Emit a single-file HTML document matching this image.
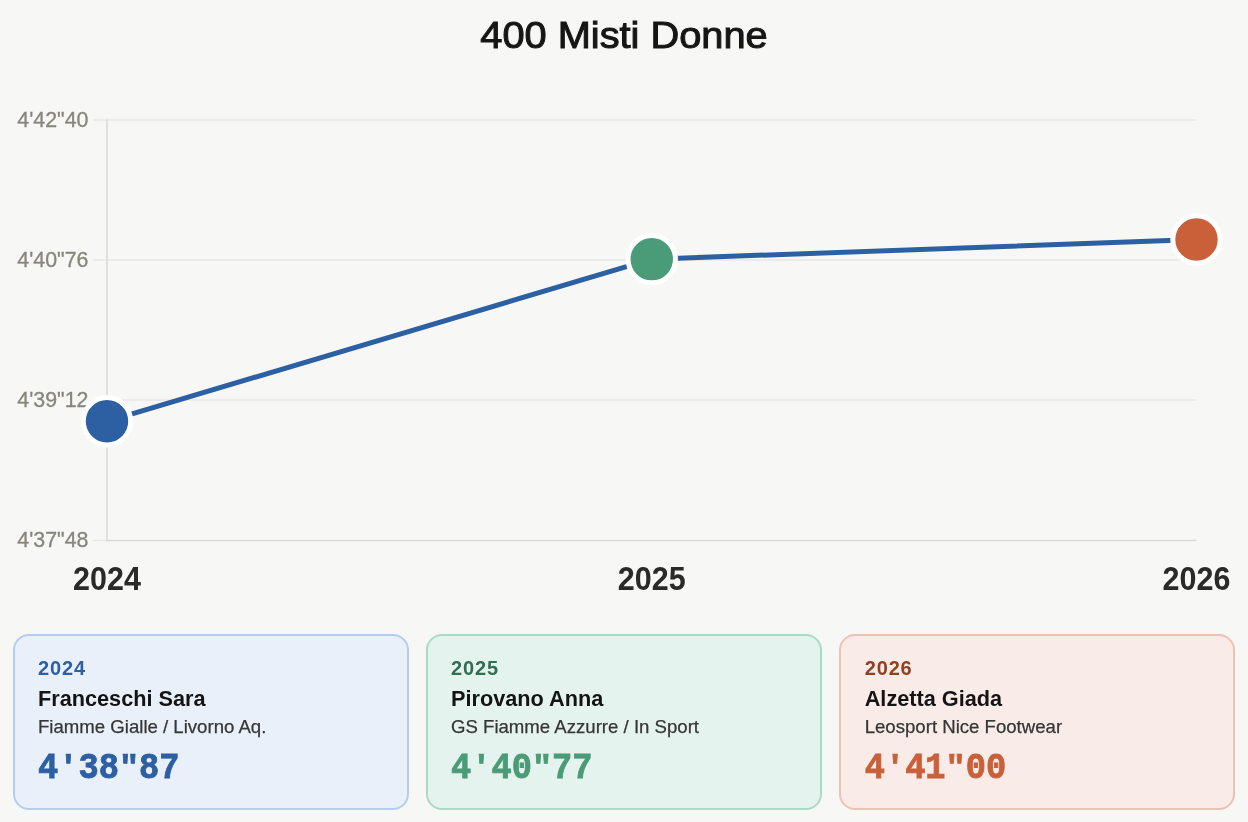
<!DOCTYPE html>
<html>
<head>
<meta charset="utf-8">
<style>
html,body{margin:0;padding:0;}
body{-webkit-font-smoothing:antialiased;width:1248px;height:822px;background:#f7f7f5;position:relative;overflow:hidden;font-family:"Liberation Sans",sans-serif;}
.title{position:absolute;left:0;top:13.8px;width:1248px;text-align:center;font-size:37px;font-weight:normal;color:#161616;line-height:44px;-webkit-text-stroke:1px #161616;transform:scaleX(1.075);}
svg.chart{position:absolute;left:0;top:0;will-change:transform;}
.title,.card{will-change:transform;}
.card{position:absolute;top:634px;width:396.3px;height:176px;border-radius:16px;border:2px solid;box-sizing:border-box;}
.c1{left:13px;background:#e9f0f9;border-color:#b4cdec;}
.c2{left:426px;background:#e5f3ee;border-color:#a9dcc6;}
.c3{left:839px;background:#f8ebe8;border-color:#ecc3b2;}
.yr{position:absolute;left:23px;top:21px;font-size:20px;font-weight:bold;letter-spacing:0.85px;line-height:22px;}
.nm{position:absolute;left:23px;top:50px;font-size:21.7px;font-weight:bold;color:#141414;line-height:26px;}
.cl{position:absolute;left:23px;top:81px;font-size:18.6px;color:#363636;-webkit-text-stroke:0.25px #363636;line-height:20px;}
.tm{position:absolute;left:23px;top:112.8px;transform:scaleY(1.075);transform-origin:0 30px;-webkit-text-stroke:0.8px currentColor;font-family:"Liberation Mono",monospace;font-size:33.7px;font-weight:bold;line-height:40px;}
.q{display:inline-block;transform:translateY(3.5px) scaleY(0.82);transform-origin:50% 0;}
.c1 .yr{color:#2d5fa3}.c1 .tm{color:#2d5fa3}
.c2 .yr{color:#2f6f55}.c2 .tm{color:#4a9b78}
.c3 .yr{color:#94401f}.c3 .tm{color:#c9603a}
.c3 .yr,.c3 .nm,.c3 .cl,.c3 .tm{left:23.7px;}
</style>
</head>
<body>
<div class="title">400 Misti Donne</div>
<svg class="chart" width="1248" height="622" viewBox="0 0 1248 622">
  <g stroke="#e8e7e4" stroke-width="1.5">
    <line x1="93" y1="120" x2="1196.5" y2="120"/>
    <line x1="93" y1="260" x2="1196.5" y2="260"/>
    <line x1="93" y1="400" x2="1196.5" y2="400"/>
    <line x1="93" y1="540.5" x2="107" y2="540.5"/>
  </g>
  <g stroke="#d9d9d6" stroke-width="1.5">
    <line x1="107" y1="119.25" x2="107" y2="541.25"/>
    <line x1="107" y1="540.5" x2="1196.5" y2="540.5"/>
  </g>
  <g font-family="Liberation Sans" font-size="21.4" fill="#86857e" stroke="#86857e" stroke-width="0.3" text-anchor="end">
    <text transform="translate(88.5,126.8) scale(1,1.01)">4'42"40</text>
    <text transform="translate(88.5,266.8) scale(1,1.01)">4'40"76</text>
    <text transform="translate(88.5,406.8) scale(1,1.01)">4'39"12</text>
    <text transform="translate(88.5,546.8) scale(1,1.01)">4'37"48</text>
  </g>
  <g font-family="Liberation Sans" font-size="30.5" font-weight="bold" fill="#2a2a2a" text-anchor="middle">
    <text transform="translate(107,590.2) scale(1,1.065)">2024</text>
    <text transform="translate(651.75,590.2) scale(1,1.065)">2025</text>
    <text transform="translate(1196.5,590.2) scale(1,1.065)">2026</text>
  </g>
  <polyline points="107,421.3 651.75,259.15 1196.5,239.5" fill="none" stroke="#2d5fa3" stroke-width="5" stroke-linejoin="round"/>
  <g stroke="#fff" stroke-width="5">
    <circle cx="107" cy="421.3" r="23.7" fill="#2d5fa3"/>
    <circle cx="651.75" cy="259.15" r="23.7" fill="#4a9b78"/>
    <circle cx="1196.5" cy="239.5" r="23.7" fill="#c9603a"/>
  </g>
</svg>

<div class="card c1">
  <div class="yr">2024</div>
  <div class="nm">Franceschi Sara</div>
  <div class="cl">Fiamme Gialle / Livorno Aq.</div>
  <div class="tm">4<span class="q">'</span>38<span class="q">"</span>87</div>
</div>
<div class="card c2">
  <div class="yr">2025</div>
  <div class="nm">Pirovano Anna</div>
  <div class="cl">GS Fiamme Azzurre / In Sport</div>
  <div class="tm">4<span class="q">'</span>40<span class="q">"</span>77</div>
</div>
<div class="card c3">
  <div class="yr">2026</div>
  <div class="nm">Alzetta Giada</div>
  <div class="cl">Leosport Nice Footwear</div>
  <div class="tm">4<span class="q">'</span>41<span class="q">"</span>00</div>
</div>
</body>
</html>
